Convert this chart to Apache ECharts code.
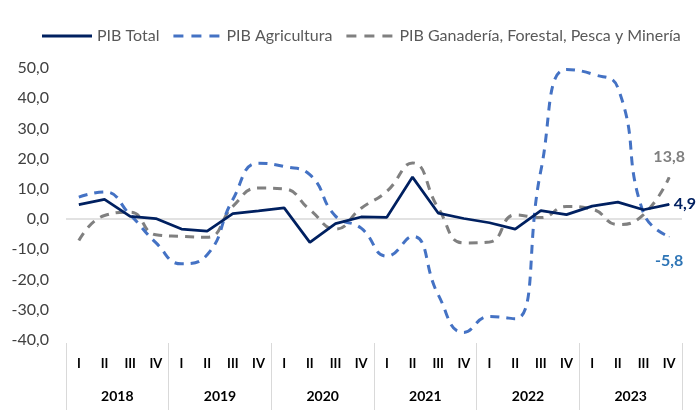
<!DOCTYPE html>
<html>
<head>
<meta charset="utf-8">
<script src="https://cdn.jsdelivr.net/npm/echarts@6/dist/echarts.min.js"></script>
<style>
  html, body { margin: 0; padding: 0; background: #fff; }
  #chart { width: 700px; height: 420px; }
</style>
</head>
<body>
<div id="chart"></div>
<script>
  // datos trimestrales 2018-2023 (variación %)
  const quarters = ['I', 'II', 'III', 'IV', 'I', 'II', 'III', 'IV', 'I', 'II', 'III', 'IV',
    'I', 'II', 'III', 'IV', 'I', 'II', 'III', 'IV', 'I', 'II', 'III', 'IV']
  const years = ['2018', '2019', '2020', '2021', '2022', '2023']
  const yTicks = { min: -40, max: 50, interval: 10 }

  const pibTotal = [4.8, 6.5, 0.9, 0.2, -3.3, -4.0, 1.8, 2.7, 3.7, -7.7, -1.5, 0.7,
    0.6, 13.9, 2.0, 0.2, -1.2, -3.3, 2.8, 1.5, 4.3, 5.6, 3.1, 4.9]
  const pibAgricultura = [7.3, 9.0, 1.4, -7.8, -14.8, -11.8, 6.5, 18.5, 17.4, 14.7, 1.0, -3.0,
    -12.3, -5.7, -25.0, -37.5, -32.2, -33.0, 16.0, 49.5, 48.0, 43.5, 2.0, -5.8]
  const pibGanaderia = [-7.1, 1.2, 2.3, -5.2, -5.7, -6.0, 4.2, 10.3, 10.0, 3.1, -3.3, 3.6,
    9.2, 18.6, 3.7, -7.9, -7.6, 1.4, 0.5, 4.2, 3.3, -1.8, 1.5, 13.8]

  const fmt = v => v.toFixed(1).replace('.', ',')

  // solo el último punto lleva etiqueta
  function withLastLabel (arr, label) {
    return arr.map((v, i) => {
      if (i !== arr.length - 1) return v
      return {
        value: v,
        symbol: 'circle',
        symbolSize: 1,
        label: Object.assign({
          show: true,
          fontWeight: 'bold',
          fontSize: 16,
          fontFamily: 'Lato',
          formatter: p => fmt(p.value)
        }, label)
      }
    })
  }

  // iconos de leyenda: línea continua y discontinua
  const iconSolid = 'path://M0,0h50v3h-50z'
  const iconDash = 'path://M0,0h10v3h-10z M18,0h10v3h-10z M36,0h10v3h-10z'

  const myChart = echarts.init(document.querySelector('#chart'))

  // línea del cero solamente
  const splitColors = []
  for (let v = yTicks.min; v <= yTicks.max; v += yTicks.interval) {
    splitColors.push(v === 0 ? '#d9d9d9' : 'rgba(0,0,0,0)')
  }

  const option = {
    animation: false,
    textStyle: { fontFamily: 'Lato' },
    legend: {
      left: 37,
      top: 23,
      itemWidth: 50,
      itemHeight: 3,
      itemGap: 14,
      textStyle: { fontSize: 16, color: '#595959', fontFamily: 'Lato' },
      data: [
        { name: 'PIB Total', icon: iconSolid },
        { name: 'PIB Agricultura', icon: iconDash },
        { name: 'PIB Ganadería, Forestal, Pesca y Minería', icon: iconDash }
      ]
    },
    grid: { left: 66, right: 18, top: 68, bottom: 80 },
    xAxis: [
      {
        type: 'category',
        data: quarters,
        position: 'bottom',
        axisLine: { show: false },
        axisTick: { show: false },
        axisLabel: { interval: 0, margin: 17, fontSize: 13, fontWeight: 'bold', color: '#000' }
      },
      {
        type: 'category',
        data: years,
        position: 'bottom',
        offset: 3,
        axisLine: { show: false },
        axisTick: { show: true, length: 67, interval: 0, lineStyle: { color: '#d9d9d9', width: 1 } },
        axisLabel: { interval: 0, margin: 46, fontSize: 14, fontWeight: 'bold', color: '#000' }
      }
    ],
    yAxis: {
      type: 'value',
      min: yTicks.min,
      max: yTicks.max,
      interval: yTicks.interval,
      axisLine: { show: false },
      axisTick: { show: false },
      axisLabel: { margin: 17, fontSize: 16, color: '#404040', formatter: v => fmt(v) },
      splitLine: { show: true, lineStyle: { color: splitColors, width: 1.5 } }
    },
    series: [
      {
        name: 'PIB Ganadería, Forestal, Pesca y Minería',
        type: 'line',
        smooth: true,
        symbol: 'none',
        z: 2,
        lineStyle: { color: '#808080', width: 3, type: [9, 7] },
        itemStyle: { color: '#808080' },
        data: withLastLabel(pibGanaderia, { position: 'top', distance: 12, color: '#808080' })
      },
      {
        name: 'PIB Agricultura',
        type: 'line',
        smooth: true,
        symbol: 'none',
        z: 3,
        lineStyle: { color: '#4472C4', width: 3, type: [9, 7] },
        itemStyle: { color: '#4472C4' },
        data: withLastLabel(pibAgricultura, { position: 'bottom', distance: 16, color: '#2E75B6' })
      },
      {
        name: 'PIB Total',
        type: 'line',
        symbol: 'none',
        z: 4,
        lineStyle: { color: '#002060', width: 2.75 },
        itemStyle: { color: '#002060' },
        data: withLastLabel(pibTotal, { position: 'right', distance: 4, color: '#002060' })
      }
    ]
  }

  myChart.setOption(option)
</script>
</body>
</html>
